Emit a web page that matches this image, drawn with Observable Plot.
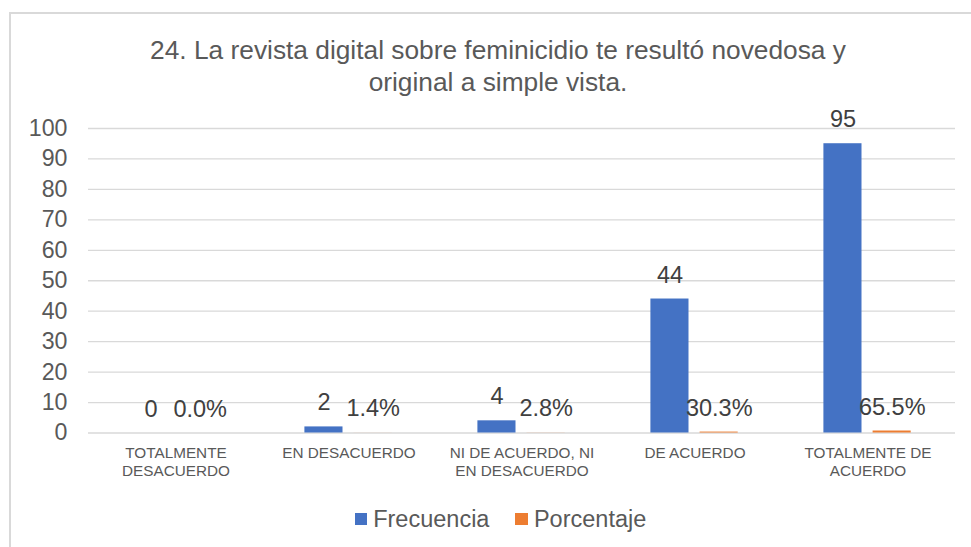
<!DOCTYPE html>
<html>
<head>
<meta charset="utf-8">
<script src="https://cdn.jsdelivr.net/npm/d3@7"></script>
<script src="https://cdn.jsdelivr.net/npm/@observablehq/plot@0.6"></script>
<style>
  html, body { margin: 0; padding: 0; background: #fff; }
  body { font-family: "Liberation Sans", Arial, sans-serif; }
  #wrap { position: relative; width: 971px; height: 547px; overflow: hidden; background: #fff; }
  #frame { position: absolute; left: 9px; top: 12px; width: 1000px; height: 600px;
           border-top: 2px solid #d9d9d9; border-left: 2px solid #d9d9d9; box-sizing: border-box; }
  #title { position: absolute; left: 11px; top: 34px; width: 974px; text-align: center;
           font-size: 26.3px; line-height: 32px; color: #595959; }
  #chart { position: absolute; left: 0; top: 98px; }
  #legend { position: absolute; left: 0; top: 503px; width: 1001px; text-align: center;
            font-size: 23.5px; color: #595959; line-height: 28px; }
  .item { display: inline-flex; align-items: center; margin: 0 13px; }
  .sw { display: inline-block; width: 12.5px; height: 12.5px; margin-right: 6px; }
</style>
</head>
<body>
<div id="wrap">
  <div id="frame"></div>
  <div id="title">24. La revista digital sobre feminicidio te resultó novedosa y<br>original a simple vista.</div>
  <div id="chart"></div>
  <div id="legend"></div>
</div>
<script>
const categories = ["TOTALMENTE DESACUERDO", "EN DESACUERDO", "NI DE ACUERDO, NI EN DESACUERDO", "DE ACUERDO", "TOTALMENTE DE ACUERDO"];
const categoryLabels = ["TOTALMENTE\nDESACUERDO", "EN DESACUERDO", "NI DE ACUERDO, NI\nEN DESACUERDO", "DE ACUERDO", "TOTALMENTE DE\nACUERDO"];
const frecuencia = [0, 2, 4, 44, 95];
const porcentaje = [0.000, 0.014, 0.028, 0.303, 0.655];
const yTicks = [0, 10, 20, 30, 40, 50, 60, 70, 80, 90, 100];
const seriesNames = ["Frecuencia", "Porcentaje"];
const seriesColors = ["#4472C4", "#ED7D31"];

const labelOf = new Map(categories.map((c, i) => [c, categoryLabels[i]]));
const rows = categories.map((c, i) => ({cat: c, f: frecuencia[i], p: porcentaje[i]}));

const chart = Plot.plot({
  width: 971,
  height: 392,
  marginLeft: 88,
  marginRight: 16,
  marginTop: 30,
  marginBottom: 57.5,
  style: {fontFamily: "'Liberation Sans', Arial, sans-serif", background: "transparent", overflow: "visible"},
  x: {type: "band", domain: categories, padding: 0},
  y: {domain: [0, 100]},
  marks: [
    Plot.ruleY(yTicks, {stroke: "#d9d9d9", strokeWidth: 1.3}),
    Plot.axisY({ticks: yTicks, tickSize: 0, tickPadding: 21, fontSize: 23.2, color: "#595959", label: null}),
    Plot.axisX({tickSize: 0, tickPadding: 13, fontSize: 15.3, color: "#595959", label: null,
                lineHeight: 1.13, tickFormat: d => labelOf.get(d)}),
    Plot.barY(rows, {x: "cat", y: "f", fill: seriesColors[0], insetLeft: 42.4, insetRight: 92.5}),
    Plot.barY(rows, {x: "cat", y: "p", fill: seriesColors[1], insetLeft: 91.6, insetRight: 43.3}),
    Plot.text(rows, {x: "cat", y: "f", text: d => d3.format("d")(d.f), dx: -25, dy: -16.5,
                     lineAnchor: "bottom", fontSize: 23.5, fill: "#404040"}),
    Plot.text(rows, {x: "cat", y: "p", text: d => d3.format(".1%")(d.p), dx: 24.2, dy: -16.5,
                     lineAnchor: "bottom", fontSize: 23.5, fill: "#404040"})
  ]
});
document.getElementById("chart").appendChild(chart);

const legend = document.getElementById("legend");
seriesNames.forEach((name, i) => {
  const item = document.createElement("span");
  item.className = "item";
  const sw = document.createElement("span");
  sw.className = "sw";
  sw.style.background = seriesColors[i];
  item.appendChild(sw);
  item.appendChild(document.createTextNode(name));
  legend.appendChild(item);
});
</script>
</body>
</html>
